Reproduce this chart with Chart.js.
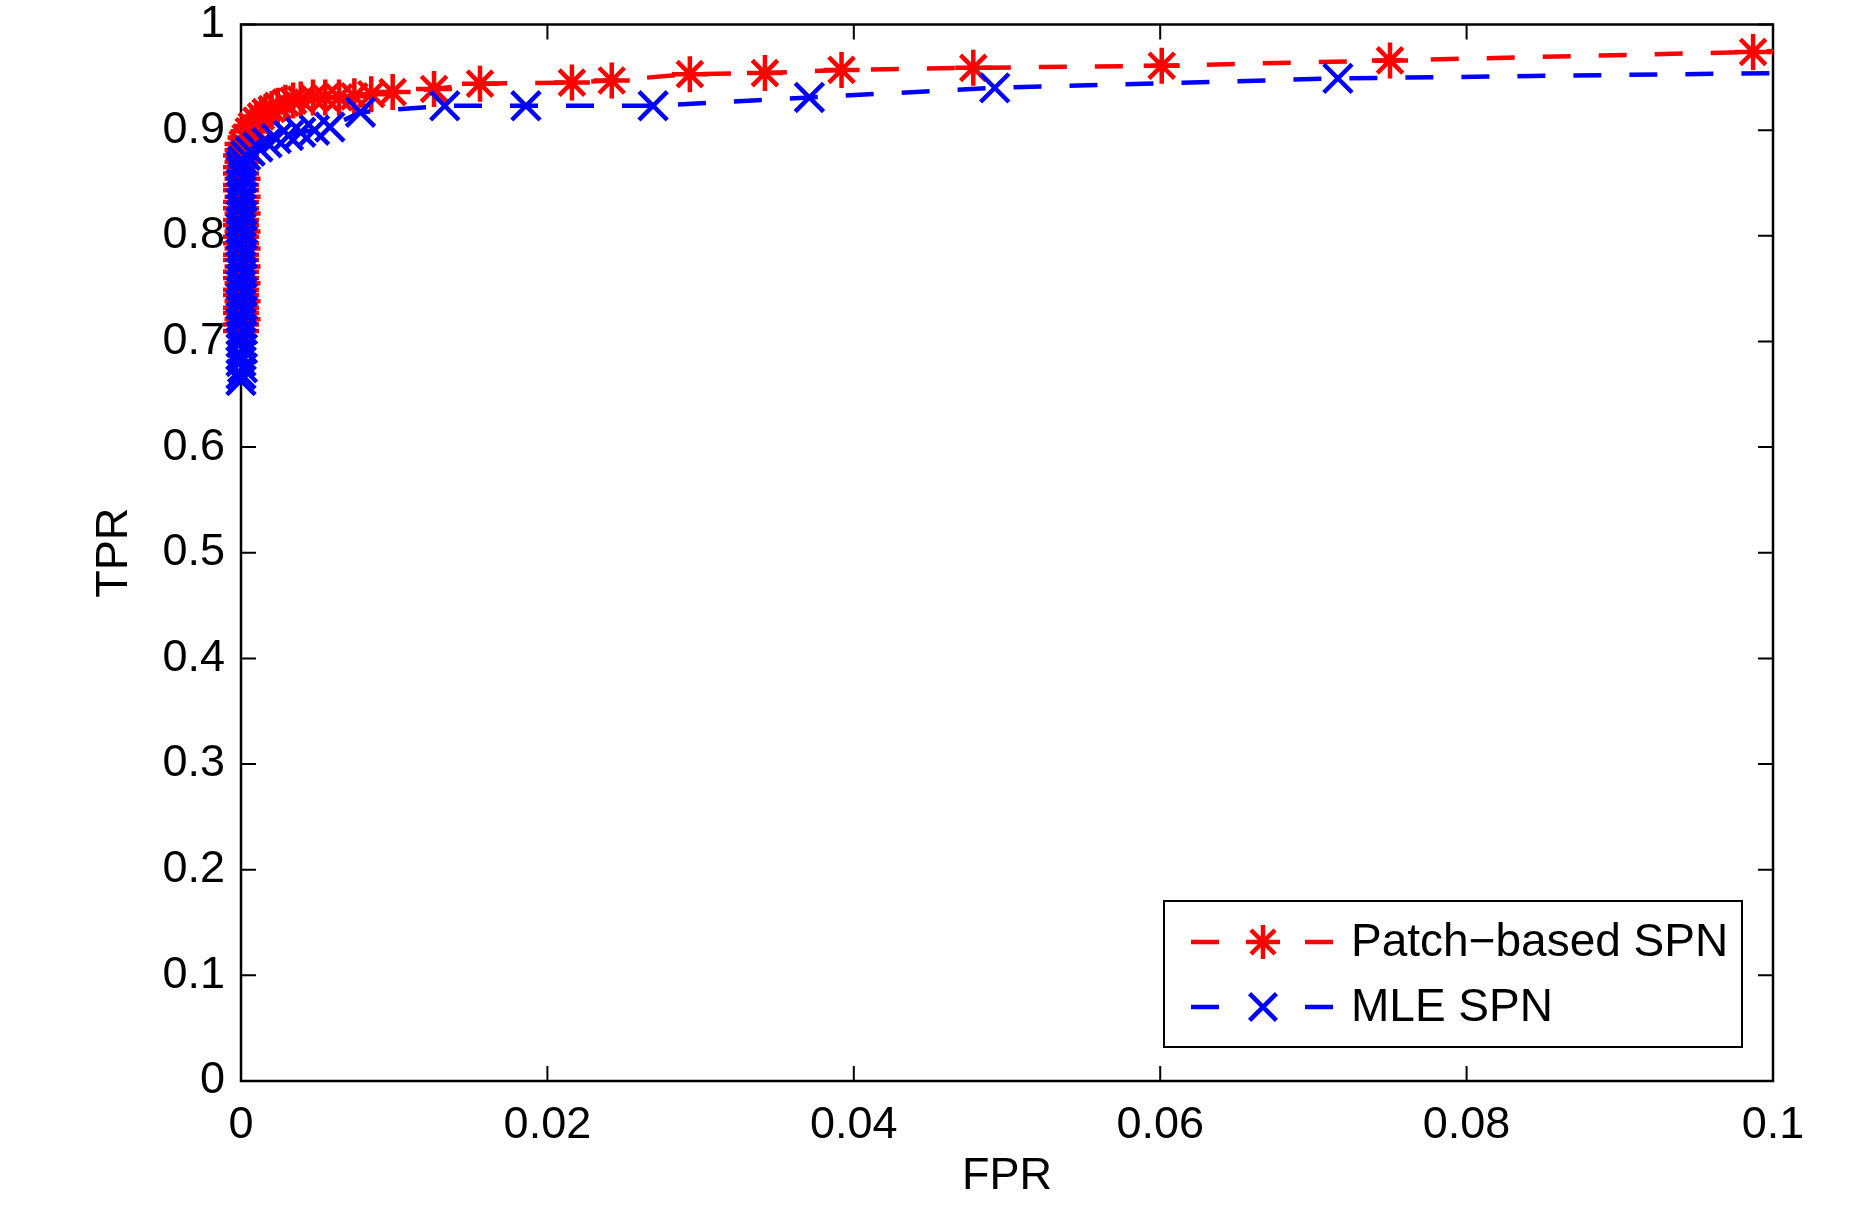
<!DOCTYPE html>
<html>
<head>
<meta charset="utf-8">
<title>ROC</title>
<script src="https://cdn.jsdelivr.net/npm/chart.js@4.4.1/dist/chart.umd.min.js"></script>
<style>
  html, body { margin: 0; padding: 0; background: #fff; }
</style>
</head>
<body>
<canvas id="rocChart" width="1861" height="1216"></canvas>
<script>
// ROC data (FPR on x, TPR on y)
const redLabel = 'Patch\u2212based SPN';
const redFpr = [0, 0, 0.0001, 0, 0, 0.0001, 0, 0, 0.0001, 0, 0, 0.0001, 0, 0, 0.0001, 0,
  0, 0.0001, 0, 0, 0.0001, 0, 0, 0.0001, 0, 0, 0.0001, 0, 0, 0.0001, 0, 0.0001,
  0.0001, 0.0003, 0.0005, 0.0007, 0.0010, 0.0013, 0.0016, 0.0020, 0.0024, 0.0029, 0.0034, 0.0039,
  0.0047, 0.0055, 0.0064, 0.0074, 0.0085, 0.0099, 0.0126, 0.0156, 0.0216, 0.0242, 0.0293, 0.0342,
  0.0392, 0.0478, 0.0601, 0.0750, 0.0987, 0.1000];
const redTpr = [0.710, 0.716, 0.721, 0.727, 0.732, 0.738, 0.744, 0.749, 0.755, 0.760, 0.766, 0.771,
  0.777, 0.782, 0.788, 0.793, 0.799, 0.804, 0.810, 0.815, 0.821, 0.826, 0.832, 0.837, 0.843, 0.848,
  0.854, 0.859, 0.865, 0.870, 0.876, 0.881,
  0.887, 0.893, 0.899, 0.904, 0.909, 0.913, 0.917, 0.920, 0.923, 0.926, 0.928, 0.929,
  0.931, 0.931, 0.931, 0.932, 0.934, 0.936, 0.939, 0.944, 0.945, 0.947, 0.953, 0.954,
  0.957, 0.959, 0.961, 0.966, 0.974, 0.975];

const blueLabel = 'MLE SPN';
const blueFpr = [0, 0, 0.0001, 0, 0, 0.0001, 0, 0, 0.0001, 0, 0, 0.0001, 0, 0, 0.0001, 0, 0, 0.0001,
  0, 0, 0.0001, 0, 0, 0.0001, 0, 0, 0.0001, 0, 0, 0.0001, 0, 0, 0.0001, 0, 0, 0.0001,
  0.0003, 0.0006, 0.0011, 0.0017, 0.0023, 0.0031, 0.0039, 0.0048, 0.0058, 0.0078, 0.0133, 0.0186,
  0.0269, 0.0371, 0.0492, 0.0716, 0.1000];
const blueTpr = [0.663, 0.669, 0.675, 0.681, 0.687, 0.693, 0.699, 0.705, 0.711, 0.717, 0.723, 0.729,
  0.735, 0.741, 0.747, 0.753, 0.759, 0.765, 0.771, 0.777, 0.783, 0.789, 0.795, 0.801, 0.807, 0.813,
  0.819, 0.825, 0.831, 0.837, 0.843, 0.849, 0.855, 0.861, 0.866, 0.871,
  0.876, 0.880, 0.884, 0.888, 0.892, 0.895, 0.898, 0.900, 0.903, 0.917, 0.923, 0.923,
  0.923, 0.931, 0.940, 0.949, 0.954];

const xTicks = [0, 0.02, 0.04, 0.06, 0.08, 0.1];
const yTicks = [0, 0.1, 0.2, 0.3, 0.4, 0.5, 0.6, 0.7, 0.8, 0.9, 1];

const FONT = '"Liberation Sans", Arial, Helvetica, sans-serif';
const FONT_SIZE = 45;
const TICK_LEN = 15;

function toPoints(xs, ys) {
  return xs.map((x, i) => ({ x: x, y: ys[i] }));
}
// last point is only the curve's end at the right border, no marker there
function radii(n, r) {
  return Array.from({ length: n }, (_, i) => (i === n - 1 ? 0 : r));
}
function fmt(v) {
  return String(Number(v.toFixed(2)));
}

function drawMarker(ctx, style, x, y, r) {
  ctx.beginPath();
  if (style === 'star') {
    ctx.moveTo(x, y - r); ctx.lineTo(x, y + r);
    ctx.moveTo(x - r, y); ctx.lineTo(x + r, y);
  }
  const d = r * Math.SQRT1_2;
  ctx.moveTo(x - d, y - d); ctx.lineTo(x + d, y + d);
  ctx.moveTo(x - d, y + d); ctx.lineTo(x + d, y - d);
  ctx.stroke();
}

// box round the axes and inward ticks on all four sides (under the data)
const framePlugin = {
  id: 'framePlugin',
  beforeDatasetsDraw(chart) {
    const { ctx, chartArea: a, scales } = chart;
    ctx.save();
    ctx.strokeStyle = '#000';
    ctx.lineWidth = 2;
    ctx.beginPath();
    xTicks.forEach(v => {
      const px = scales.x.getPixelForValue(v);
      ctx.moveTo(px, a.bottom); ctx.lineTo(px, a.bottom - TICK_LEN);
      ctx.moveTo(px, a.top); ctx.lineTo(px, a.top + TICK_LEN);
    });
    yTicks.forEach(v => {
      const py = scales.y.getPixelForValue(v);
      ctx.moveTo(a.left, py); ctx.lineTo(a.left + TICK_LEN, py);
      ctx.moveTo(a.right, py); ctx.lineTo(a.right - TICK_LEN, py);
    });
    ctx.stroke();
    ctx.lineWidth = 2.5;
    ctx.strokeRect(a.left, a.top, a.right - a.left, a.bottom - a.top);
    ctx.restore();
  }
};

// MATLAB style legend box in the lower right
const legendPlugin = {
  id: 'legendPlugin',
  afterDraw(chart) {
    const { ctx } = chart;
    const box = { x: 1164, y: 901, w: 578, h: 146 };
    const rows = [942, 1007];
    ctx.save();
    ctx.fillStyle = '#fff';
    ctx.fillRect(box.x, box.y, box.w, box.h);
    ctx.strokeStyle = '#000';
    ctx.lineWidth = 2;
    ctx.strokeRect(box.x, box.y, box.w, box.h);
    chart.data.datasets.forEach((ds, i) => {
      const y = rows[i];
      ctx.strokeStyle = ds.borderColor;
      ctx.lineWidth = 4.5;
      ctx.beginPath();
      ctx.moveTo(1191, y); ctx.lineTo(1219, y);
      ctx.moveTo(1305, y); ctx.lineTo(1333, y);
      ctx.stroke();
      drawMarker(ctx, ds.pointStyle, 1263, y, ds.pointStyle === 'star' ? 17 : 19);
      ctx.fillStyle = '#000';
      ctx.font = '46px ' + FONT;
      ctx.textBaseline = 'middle';
      ctx.textAlign = 'left';
      ctx.fillText(ds.label, 1351, y + 1);
    });
    ctx.restore();
  }
};

const ctx = document.getElementById('rocChart').getContext('2d');
new Chart(ctx, {
  type: 'line',
  data: {
    datasets: [{
      label: redLabel,
      data: toPoints(redFpr, redTpr),
      borderColor: '#ff0000',
      backgroundColor: '#ff0000',
      borderWidth: 4.5,
      borderDash: [28, 28],
      pointStyle: 'star',
      pointRadius: radii(redFpr.length, 18),
      pointBorderWidth: 4.5,
      pointBorderColor: '#ff0000',
      tension: 0,
      clip: false,
      order: 2
    }, {
      label: blueLabel,
      data: toPoints(blueFpr, blueTpr),
      borderColor: '#0000ff',
      backgroundColor: '#0000ff',
      borderWidth: 4.5,
      borderDash: [28, 28],
      pointStyle: 'crossRot',
      pointRadius: radii(blueFpr.length, 20),
      pointBorderWidth: 4.5,
      pointBorderColor: '#0000ff',
      tension: 0,
      clip: false,
      order: 1
    }]
  },
  options: {
    responsive: false,
    animation: false,
    events: [],
    layout: { padding: { left: 0, right: 88, top: 24, bottom: 0 } },
    plugins: {
      legend: { display: false },
      tooltip: { enabled: false }
    },
    scales: {
      x: {
        type: 'linear',
        min: 0,
        max: 0.1,
        grid: { display: false, drawTicks: false },
        border: { display: false },
        afterBuildTicks: s => { s.ticks = xTicks.map(v => ({ value: v })); },
        ticks: {
          padding: 18,
          maxRotation: 0,
          color: '#000',
          font: { family: FONT, size: FONT_SIZE },
          callback: v => fmt(v)
        },
        title: {
          display: true,
          text: 'FPR',
          color: '#000',
          font: { family: FONT, size: FONT_SIZE },
          padding: { top: 0, bottom: 12 }
        },
        afterFit: s => { s.height = 135; s.paddingLeft = 0; s.paddingRight = 0; }
      },
      y: {
        type: 'linear',
        min: 0,
        max: 1,
        grid: { display: false, drawTicks: false },
        border: { display: false },
        afterBuildTicks: s => { s.ticks = yTicks.map(v => ({ value: v })); },
        ticks: {
          padding: 16,
          color: '#000',
          font: { family: FONT, size: FONT_SIZE },
          callback: v => fmt(v)
        },
        title: {
          display: true,
          text: 'TPR',
          color: '#000',
          font: { family: FONT, size: FONT_SIZE },
          padding: { top: 88, bottom: 0 }
        },
        afterFit: s => { s.width = 241; s.paddingTop = 0; s.paddingBottom = 0; }
      }
    }
  },
  plugins: [framePlugin, legendPlugin]
});
</script>
</body>
</html>
